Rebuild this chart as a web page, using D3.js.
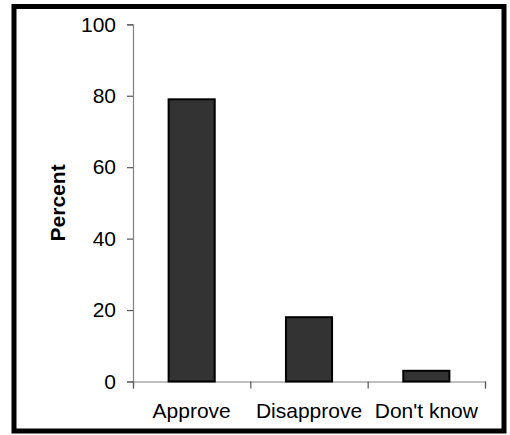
<!DOCTYPE html>
<html>
<head>
<meta charset="utf-8">
<script src="https://cdn.jsdelivr.net/npm/d3@7"></script>
<style>
  html, body { margin: 0; padding: 0; background: #fff; }
  svg { display: block; font-family: Arial, "Liberation Sans", sans-serif; }
</style>
</head>
<body>
<svg id="chart" width="510" height="435"></svg>
<script>
// Survey responses (percent)
const categories = ["Approve", "Disapprove", "Don't know"];
const percents = [79, 18, 3];
const yTicks = [0, 20, 40, 60, 80, 100];
const yLabel = "Percent";

const svg = d3.select("#chart");

const plot = { left: 133, right: 485, top: 24.3, bottom: 381.5 };

// Frame around the whole chart
svg.append("rect")
  .attr("x", 14).attr("y", 6.5)
  .attr("width", 490).attr("height", 424.5)
  .attr("fill", "none")
  .attr("stroke", "#000")
  .attr("stroke-width", 5);

const y = d3.scaleLinear().domain([0, 100]).range([plot.bottom, plot.top]);
const x = d3.scaleBand().domain(categories)
  .range([plot.left, plot.right])
  .paddingInner(0.59).paddingOuter(0.295);
// Boundaries between categories, used for the x tick marks
const xEdge = d3.scaleLinear().domain([0, categories.length]).range([plot.left, plot.right]);

// Y axis
const yAxis = svg.append("g")
  .attr("transform", `translate(${plot.left},0)`)
  .call(d3.axisLeft(y).tickValues(yTicks).tickSize(6).tickPadding(11).tickFormat(d3.format("d")));
yAxis.select(".domain").attr("stroke", "#808080").attr("stroke-width", 1.2);
yAxis.selectAll(".tick line").attr("stroke", "#555").attr("stroke-width", 1.2);
yAxis.selectAll(".tick text")
  .attr("fill", "#000")
  .style("font-size", "21px");

// X axis: ticks on category boundaries
const xAxis = svg.append("g")
  .attr("transform", `translate(0,${plot.bottom})`)
  .call(d3.axisBottom(xEdge).tickValues(d3.range(categories.length + 1)).tickSize(7).tickFormat(""));
xAxis.select(".domain").attr("stroke", "#808080").attr("stroke-width", 1.2);
xAxis.selectAll(".tick line").attr("stroke", "#555").attr("stroke-width", 1.2);

// Category labels centred under each bar
const xLabels = svg.append("g")
  .attr("transform", `translate(0,${plot.bottom})`)
  .call(d3.axisBottom(x).tickSize(0).tickPadding(22));
xLabels.select(".domain").remove();
xLabels.selectAll(".tick text")
  .attr("fill", "#000")
  .style("font-size", "21px");

// Bars
svg.append("g")
  .selectAll("rect")
  .data(categories.map((c, i) => ({ c, v: percents[i] })))
  .join("rect")
  .attr("x", d => x(d.c) + 1)
  .attr("y", d => y(d.v))
  .attr("width", x.bandwidth() - 2)
  .attr("height", d => y(0) - y(d.v))
  .attr("fill", "#333333")
  .attr("stroke", "#000")
  .attr("stroke-width", 2);

// Y axis title
svg.append("text")
  .attr("transform", `translate(65,${(plot.top + plot.bottom) / 2}) rotate(-90)`)
  .attr("text-anchor", "middle")
  .style("font-size", "21px")
  .style("font-weight", "bold")
  .attr("fill", "#000")
  .text(yLabel);
</script>
</body>
</html>
